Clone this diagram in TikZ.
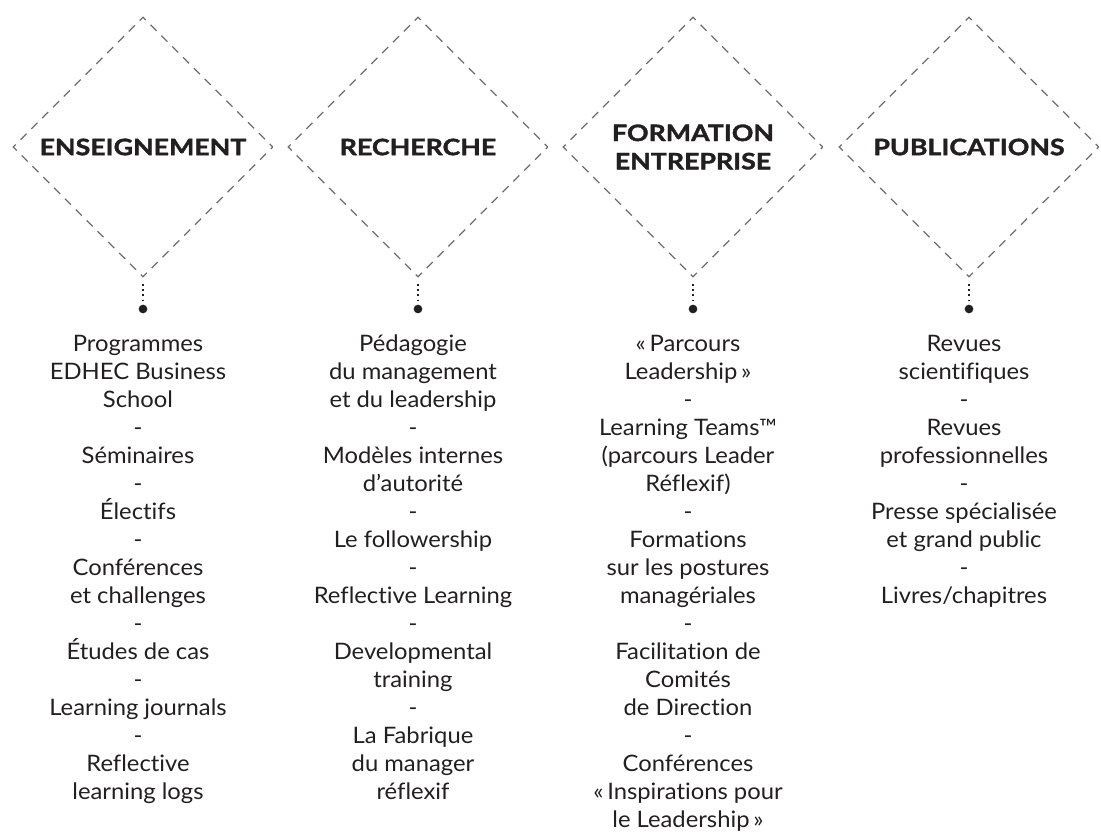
\documentclass[tikz,border=0pt]{standalone}
\usepackage{fontspec}
\setmainfont{Lato}[FakeStretch=1.05, Ligatures=CommonOff]
\newfontfamily\titrefont{Lato}[FakeStretch=1.18, Ligatures=CommonOff,
                               BoldFeatures={FakeBold=1.6}]
\usepackage{tikz}
\usetikzlibrary{shapes.geometric}
\usetikzlibrary{positioning}

\definecolor{encre}{HTML}{231F20}
\definecolor{tirets}{HTML}{6D6E71}

\begin{document}
\begin{tikzpicture}[
        x=0.75pt, y=-0.75pt,
        losange/.style={diamond, draw=tirets, line width=1pt,
                        minimum width=195pt, minimum height=195pt, inner sep=0pt,
                        dash pattern=on 6.375pt off 5.116pt, dash phase=3.19pt},
        titre/.style={font=\titrefont\bfseries\fontsize{17}{21.2}\selectfont,
                      text=encre, align=center, inner sep=0pt},
        point/.style={circle, fill=encre, minimum size=6.5pt, inner sep=0pt},
        pointille/.style={draw=encre, line width=1.2pt,
                          dash pattern=on 1.2pt off 2.6pt, shorten <=5pt},
        liste/.style={font=\fontsize{17}{21}\selectfont, text=encre,
                      align=center, inner sep=0pt},
    ]
    \useasboundingbox (0, 0) rectangle (1101, 834);

    \foreach \x/\n/\titre in {143/1/ENSEIGNEMENT, 418/2/RECHERCHE,
                              693/3/{FORMATION\\ENTREPRISE}, 969/4/PUBLICATIONS}
    {
        \node[losange] (d\n) at (\x, 147) {};
        \node[titre] (t\n) at (d\n) {\titre};
        \node[point] (p\n) at (\x, 309) {};
        \draw[pointille] (d\n.south) -- (p\n.north);
    }

    \node[liste, below=16pt of p1, xshift=-3.75pt] (l1)
        {Programmes\\EDHEC Business\\School\\-\\Séminaires\\-\\Électifs\\-\\
         Conférences\\et challenges\\-\\Études de cas\\-\\Learning journals\\-\\
         Reflective\\learning logs};

    \node[liste, below=16pt of p2, xshift=-3.75pt] (l2)
        {Pédagogie\\du management\\et du leadership\\-\\Modèles internes\\d’autorité\\-\\
         Le followership\\-\\Reflective Learning\\-\\Developmental\\training\\-\\
         La Fabrique\\du manager\\réflexif};

    \node[liste, below=16pt of p3, xshift=-3.75pt] (l3)
        {«\,Parcours\\Leadership\,»\\-\\Learning Teams™\\(parcours Leader\\Réflexif)\\-\\
         Formations\\sur les postures\\managériales\\-\\Facilitation de\\Comités\\
         de Direction\\-\\Conférences\\«\,Inspirations pour\\le Leadership\,»};

    \node[liste, below=16pt of p4, xshift=-3.75pt] (l4)
        {Revues\\scientifiques\\-\\Revues\\professionnelles\\-\\Presse spécialisée\\
         et grand public\\-\\Livres/chapitres};

\end{tikzpicture}
\end{document}
